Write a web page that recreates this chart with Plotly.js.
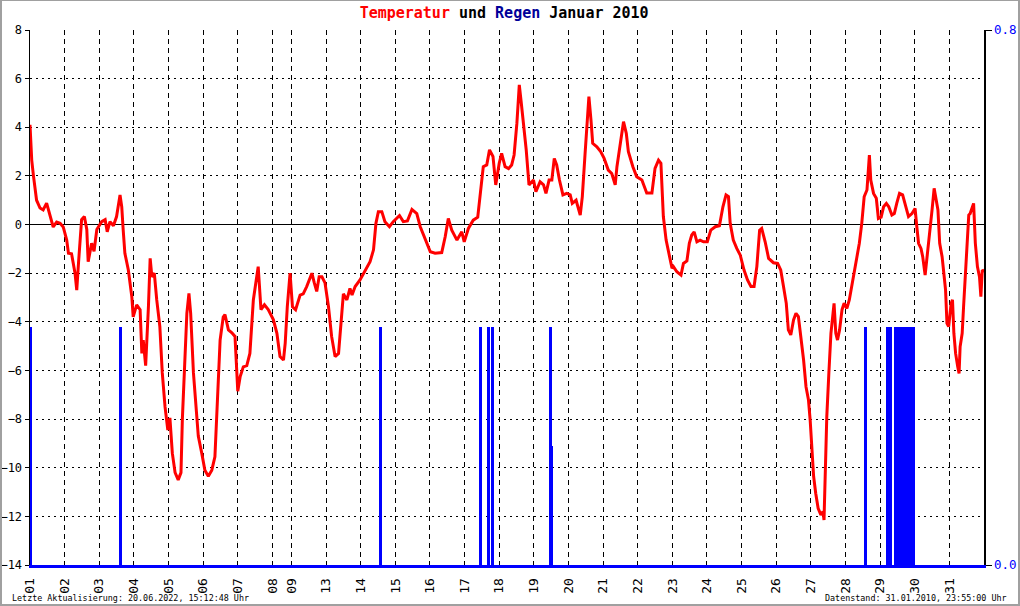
<!DOCTYPE html>
<html>
<head>
<meta charset="utf-8">
<script src="https://cdn.plot.ly/plotly-3.0.1.min.js"></script>
<style>
html,body{margin:0;padding:0;background:#fff;}
#chart{position:absolute;left:0;top:0;width:1020px;height:606px;}
#frame{position:absolute;left:0;top:0;width:1020px;height:606px;box-sizing:border-box;
 border-top:1px solid #a0a0a0;border-left:2px solid #a0a0a0;border-right:2px solid #a0a0a0;border-bottom:2px solid #a0a0a0;pointer-events:none;}
</style>
</head>
<body>
<div id="chart"></div>
<div id="frame"></div>
<script>
// Day labels on the x axis (days 10-12 are missing in the data)
var dayLabels = ["01","02","03","04","05","06","07","08","09","13","14","15","16","17","18","19","20","21","22","23","24","25","26","27","28","29","30","31"];
var dayPos = [0,1,2,3,4,5,6,7,7.55,8.55,9.55,10.55,11.55,12.55,13.55,14.55,15.55,16.55,17.55,18.55,19.55,20.55,21.55,22.55,23.55,24.55,25.55,26.55];

// Temperature (°C) against position on the day axis
var tempPos = [0.00,0.02,0.05,0.10,0.19,0.29,0.38,0.48,0.58,0.67,0.77,0.87,0.96,1.06,1.11,1.20,1.30,1.35,1.40,1.49,1.57,1.64,1.68,1.78,1.85,1.93,2.07,2.17,2.23,2.31,2.41,2.50,2.60,2.65,2.69,2.74,2.84,2.94,2.98,3.08,3.18,3.23,3.27,3.34,3.42,3.47,3.52,3.59,3.66,3.75,3.82,3.90,3.98,4.04,4.11,4.19,4.28,4.36,4.40,4.46,4.53,4.59,4.64,4.72,4.79,4.86,4.96,5.05,5.15,5.25,5.34,5.42,5.49,5.58,5.63,5.73,5.83,5.92,6.00,6.07,6.16,6.26,6.35,6.45,6.52,6.59,6.67,6.77,6.88,7.03,7.13,7.22,7.32,7.37,7.43,7.51,7.58,7.67,7.80,7.89,7.99,8.06,8.14,8.21,8.28,8.35,8.43,8.52,8.62,8.71,8.81,8.91,8.98,9.05,9.15,9.24,9.30,9.39,9.53,9.68,9.82,9.92,9.99,10.06,10.16,10.25,10.38,10.49,10.67,10.78,10.90,11.03,11.17,11.27,11.41,11.56,11.70,11.89,11.99,12.08,12.18,12.33,12.47,12.54,12.66,12.80,12.93,13.02,13.09,13.19,13.27,13.37,13.45,13.55,13.62,13.72,13.82,13.91,13.98,14.06,14.13,14.18,14.25,14.33,14.41,14.54,14.61,14.73,14.83,14.90,14.99,15.07,15.14,15.21,15.29,15.39,15.50,15.60,15.66,15.77,15.89,15.95,16.03,16.10,16.14,16.20,16.25,16.37,16.48,16.58,16.70,16.80,16.90,16.95,17.02,17.09,17.14,17.22,17.28,17.41,17.52,17.67,17.81,17.96,18.05,18.15,18.22,18.29,18.37,18.47,18.54,18.58,18.68,18.80,18.87,18.97,19.04,19.11,19.18,19.26,19.35,19.45,19.56,19.66,19.79,19.91,20.01,20.10,20.17,20.22,20.31,20.41,20.51,20.62,20.72,20.82,20.91,20.99,21.07,21.13,21.23,21.33,21.47,21.59,21.68,21.76,21.84,21.90,21.97,22.05,22.12,22.19,22.26,22.34,22.41,22.48,22.53,22.58,22.63,22.69,22.76,22.84,22.90,22.93,22.96,23.01,23.07,23.13,23.19,23.22,23.27,23.32,23.38,23.45,23.51,23.59,23.66,23.73,23.80,23.88,23.95,24.02,24.09,24.17,24.21,24.24,24.28,24.36,24.44,24.50,24.58,24.65,24.73,24.80,24.89,24.96,25.03,25.11,25.20,25.27,25.37,25.47,25.56,25.61,25.66,25.73,25.78,25.85,25.90,25.98,26.05,26.11,26.16,26.22,26.27,26.34,26.38,26.44,26.48,26.53,26.60,26.64,26.68,26.73,26.79,26.83,26.86,26.92,26.96,27.02,27.06,27.11,27.15,27.21,27.25,27.30,27.36,27.42,27.46,27.50,27.56];
var tempVal = [4.1,3.3,2.65,2.0,1.0,0.68,0.6,0.88,0.38,-0.1,0.1,0.05,-0.1,-0.64,-1.18,-1.2,-2.0,-2.7,-1.6,0.2,0.33,-0.2,-1.53,-0.77,-1.1,-0.2,0.12,0.2,-0.3,0.12,-0.05,0.33,1.22,0.73,-0.2,-1.18,-1.87,-2.97,-3.8,-3.3,-3.5,-5.3,-4.75,-5.8,-3.38,-1.39,-2.15,-2.0,-3.1,-4.2,-6.1,-7.5,-8.45,-7.95,-9.4,-10.2,-10.5,-10.2,-8.0,-5.7,-3.65,-2.83,-3.65,-6.1,-7.6,-8.7,-9.4,-10.1,-10.35,-10.1,-9.55,-7.1,-4.75,-3.8,-3.7,-4.33,-4.45,-4.6,-6.85,-6.25,-5.85,-5.8,-5.3,-3.1,-2.3,-1.73,-3.5,-3.3,-3.5,-3.92,-4.47,-5.43,-5.57,-4.88,-3.38,-2.0,-3.38,-3.5,-2.9,-2.85,-2.55,-2.28,-2.0,-2.4,-2.75,-2.15,-2.15,-2.4,-3.38,-4.6,-5.43,-5.3,-3.92,-2.85,-3.1,-2.63,-2.9,-2.55,-2.28,-1.87,-1.53,-1.04,0.05,0.53,0.53,0.12,-0.09,0.12,0.37,0.12,0.15,0.62,0.45,-0.09,-0.57,-1.12,-1.18,-1.15,-0.5,0.25,-0.23,-0.64,-0.3,-0.71,-0.16,0.18,0.3,1.42,2.38,2.45,3.07,2.8,1.63,2.52,2.93,2.38,2.3,2.45,2.86,4.16,5.74,5.1,4.16,3.07,1.63,1.83,1.35,1.76,1.63,1.28,1.83,1.83,2.72,2.45,1.83,1.22,1.28,1.22,0.87,1.0,0.39,1.15,2.93,4.58,5.26,4.3,3.34,3.2,3.0,2.72,2.24,2.1,1.63,2.38,3.07,3.89,4.23,3.75,3.0,2.38,1.97,1.83,1.3,1.3,2.31,2.65,2.52,0.33,-0.64,-1.32,-1.8,-1.73,-1.94,-2.08,-1.6,-1.5,-0.77,-0.43,-0.3,-0.71,-0.64,-0.71,-0.71,-0.23,-0.09,-0.05,0.73,1.22,1.15,0.05,-0.64,-0.98,-1.25,-1.87,-2.28,-2.55,-2.55,-1.73,-0.23,-0.16,-0.71,-1.39,-1.57,-1.6,-1.87,-2.55,-3.24,-4.33,-4.54,-3.92,-3.65,-3.78,-4.6,-5.57,-6.67,-7.2,-8.04,-9.13,-10.36,-11.05,-11.67,-11.94,-11.8,-12.15,-10.36,-7.9,-6.1,-4.47,-3.65,-3.24,-4.47,-4.75,-4.33,-3.5,-3.24,-3.45,-3.1,-2.55,-1.87,-1.32,-0.77,0.05,1.15,1.42,2.38,2.86,1.83,1.28,1.08,0.25,0.3,0.73,0.87,0.73,0.39,0.45,0.87,1.28,1.22,0.87,0.33,0.45,0.66,-0.09,-0.77,-0.98,-1.32,-2.08,-1.46,-0.5,0.6,1.49,1.0,0.6,-0.77,-1.32,-1.87,-2.69,-4.06,-4.2,-3.24,-3.1,-4.47,-5.3,-5.84,-6.12,-5.03,-4.47,-3.38,-1.73,-0.9,0.39,0.45,0.73,0.87,-0.77,-1.73,-2.15,-2.97,-1.87,-1.94];

// Rain (right axis) against position on the day axis
var rainPos = [0.00,2.61,10.13,13.00,13.24,13.35,15.02,15.07,24.13,24.77,24.85,25.00,25.085,25.17,25.255,25.34,25.425,25.51];
var rainVal = [0.356,0.356,0.356,0.356,0.356,0.356,0.356,0.178,0.356,0.356,0.356,0.356,0.356,0.356,0.356,0.356,0.356,0.356];

var yTicks = [8,6,4,2,0,-2,-4,-6,-8,-10,-12,-14];
var rainTicks = [0, 0.8];
var rainTickText = ["0.0","0.8"];

var mono = "DejaVu Sans Mono, monospace";

var traces = [
  {
    type: "bar", x: rainPos, y: rainVal, yaxis: "y2", xaxis: "x",
    width: 0.09, marker: {color: "#0000ff", line: {width: 0}},
    cliponaxis: false, hoverinfo: "skip", showlegend: false
  },
  {
    type: "scatter", mode: "lines", x: tempPos, y: tempVal,
    line: {color: "#ff0000", width: 3}, showlegend: false, hoverinfo: "skip"
  }
];

var layout = {
  width: 1020, height: 606,
  margin: {l: 30, r: 36, t: 30, b: 41, pad: 0},
  paper_bgcolor: "#ffffff", plot_bgcolor: "#ffffff",
  showlegend: false,
  bargap: 0,
  title: {
    text: '<span style="color:#ff0000">Temperatur</span> und <span style="color:#000099">Regen</span> Januar 2010',
    font: {family: mono, size: 15, color: "#000000", weight: "bold"},
    x: 0.497, xanchor: "center", xref: "paper",
    y: 1 - 13/606, yanchor: "middle", yref: "container"
  },
  xaxis: {
    range: [0, 27.55], fixedrange: true,
    tickmode: "array", tickvals: dayPos, ticktext: dayLabels,
    tickangle: -90, tickfont: {family: mono, size: 13, color: "#000000"},
    ticks: "", ticklabelstandoff: 5,
    showgrid: true, gridcolor: "#000000", gridwidth: 1, griddash: "5px,4px",
    zeroline: false,
    showline: true, linecolor: "#0000ff", linewidth: 3
  },
  yaxis: {
    range: [-14, 8], fixedrange: true,
    tickmode: "array", tickvals: yTicks,
    tickfont: {family: mono, size: 12, color: "#000000"},
    ticks: "outside", ticklen: 4, tickcolor: "#000000", tickwidth: 1,
    showgrid: true, gridcolor: "#000000", gridwidth: 1, griddash: "2px,4px",
    zeroline: true, zerolinecolor: "#000000", zerolinewidth: 1.5,
    showline: true, linecolor: "#000000", linewidth: 1.5
  },
  yaxis2: {
    overlaying: "y", side: "right", range: [0, 0.8], fixedrange: true,
    tickmode: "array", tickvals: rainTicks, ticktext: rainTickText,
    tickfont: {family: mono, size: 12.5, color: "#0000ff"},
    ticks: "outside", ticklen: 6, tickcolor: "#000000",
    showgrid: false, zeroline: false,
    showline: true, linecolor: "#000000", linewidth: 1.5
  },
  annotations: [
    {
      text: "Letzte Aktualisierung: 20.06.2022, 15:12:48 Uhr",
      xref: "paper", yref: "paper", x: (10 - 30) / 954, y: (565 - 598) / 535,
      xanchor: "left", yanchor: "middle", showarrow: false,
      font: {family: mono, size: 8.4, color: "#000000"}
    },
    {
      text: "Datenstand: 31.01.2010, 23:55:00 Uhr",
      xref: "paper", yref: "paper", x: (1009 - 30) / 954, y: (565 - 598) / 535,
      xanchor: "right", yanchor: "middle", showarrow: false,
      font: {family: mono, size: 8.4, color: "#000000"}
    }
  ]
};

Plotly.newPlot("chart", traces, layout, {staticPlot: true, displayModeBar: false});
</script>
</body>
</html>
